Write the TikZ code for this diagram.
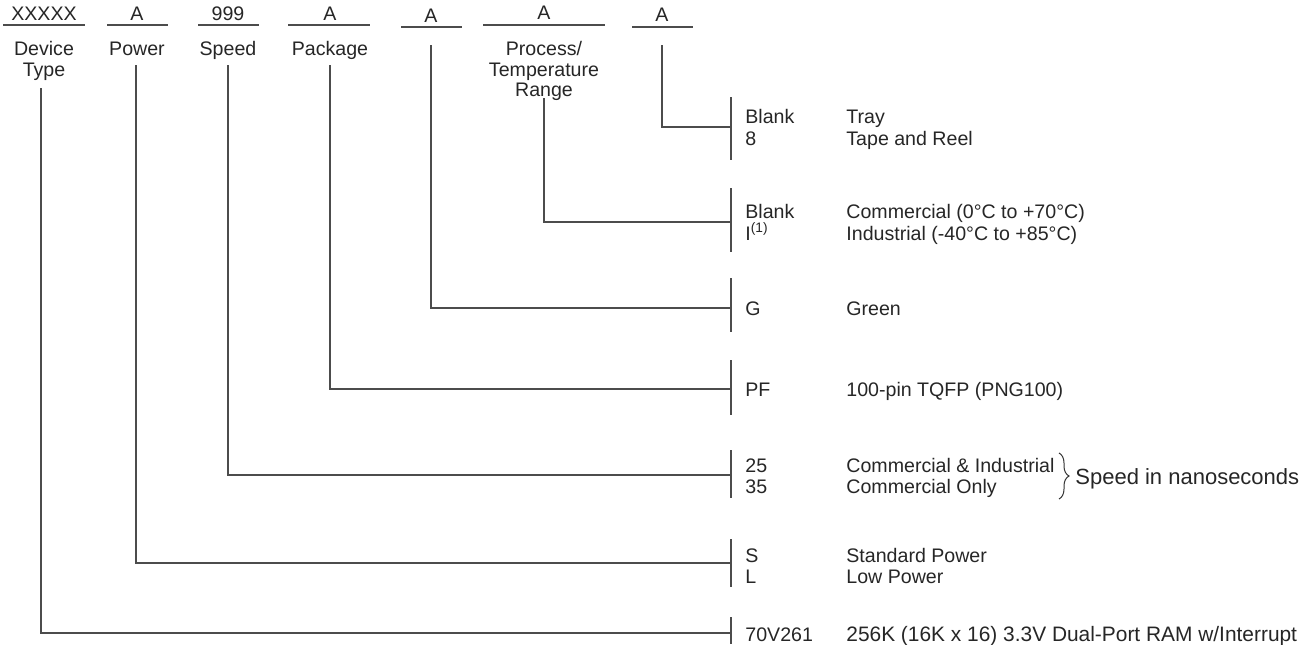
\documentclass[tikz,border=0pt]{standalone}
\usepackage{fontspec}
\setmainfont{Liberation Sans}
\usetikzlibrary{decorations.pathreplacing}
\begin{document}
\begin{tikzpicture}[x=0.5pt,y=-0.5pt,
  txt/.style={inner sep=0pt, anchor=base, text=black!85, font=\fontsize{9.8}{11.8}\selectfont},
  ltxt/.style={txt, anchor=base west},
  ln/.style={draw=black!70, line width=0.7pt},
  brk/.style={draw=black!70, line width=0.7pt},
]
\useasboundingbox (0,0) rectangle (1302,644);

% top code characters
\node[txt] (c1) at (44,20) {XXXXX};
\node[txt] (c2) at (137,20) {A};
\node[txt] (c3) at (228,20) {999};
\node[txt] (c4) at (330,20) {A};
\node[txt] (c5) at (431,22) {A};
\node[txt] (c6) at (544,19) {A};
\node[txt] (c7) at (662,21.5) {A};

% underlines
\draw[ln] (3,25) -- (85,25);
\draw[ln] (107,25) -- (168,25);
\draw[ln] (198,25) -- (259,25);
\draw[ln] (288,25) -- (370,25);
\draw[ln] (401,27) -- (462,27);
\draw[ln] (483,25) -- (605,25);
\draw[ln] (632,27) -- (693,27);

% field labels
\node[txt] (l1a) at (44,55) {Device};
\node[txt] (l1b) at (44,76) {Type};
\node[txt] (l2) at (137,55) {Power};
\node[txt] (l3) at (228,55) {Speed};
\node[txt] (l4) at (330,55) {Package};
\node[txt] (l6a) at (544,55) {Process/};
\node[txt] (l6b) at (544,76) {Temperature};
\node[txt] (l6c) at (544,96) {Range};

% line start coordinates
\coordinate (t1) at (41,88);
\coordinate (t2) at (136,65);
\coordinate (t3) at (228,65);
\coordinate (t4) at (330,65);
\coordinate (t5) at (431,45);
\coordinate (t6) at (544,98);
\coordinate (t7) at (662,45);

% bracket junctions
\coordinate (b7) at (731,127);
\coordinate (b6) at (731,222);
\coordinate (b5) at (731,308);
\coordinate (b4) at (731,389);
\coordinate (b3) at (731,475);
\coordinate (b2) at (731,563);
\coordinate (b1) at (731,633);

% connectors
\draw[ln] (t7) |- (b7);
\draw[ln] (t6) |- (b6);
\draw[ln] (t5) |- (b5);
\draw[ln] (t4) |- (b4);
\draw[ln] (t3) |- (b3);
\draw[ln] (t2) |- (b2);
\draw[ln] (t1) |- (b1);

% brackets
\draw[brk] (731,97) -- (731,160);
\draw[brk] (731,188) -- (731,252);
\draw[brk] (731,278) -- (731,332);
\draw[brk] (731,360) -- (731,415);
\draw[brk] (731,450) -- (731,498);
\draw[brk] (731,539) -- (731,587);
\draw[brk] (731,617) -- (731,644);

% option codes
\node[ltxt] (o7a) at (745,123) {Blank};
\node[ltxt] (o7b) at (745,145) {8};
\node[ltxt] (o6a) at (745,218) {Blank};
\node[ltxt] (o6b) at (745,240) {I\textsuperscript{(1)}};
\node[ltxt] (o5) at (745,315) {G};
\node[ltxt] (o4) at (745,396) {PF};
\node[ltxt] (o3a) at (745,472) {25};
\node[ltxt] (o3b) at (745,493) {35};
\node[ltxt] (o2a) at (745,562) {S};
\node[ltxt] (o2b) at (745,583) {L};
\node[ltxt] (o1) at (745,641) {70V261};

% descriptions
\node[ltxt] (d7a) at (846,123) {Tray};
\node[ltxt] (d7b) at (846,145) {Tape and Reel};
\node[ltxt] (d6a) at (846,218) {Commercial (0°C to +70°C)};
\node[ltxt] (d6b) at (846,240) {Industrial (-40°C to +85°C)};
\node[ltxt] (d5) at (846,315) {Green};
\node[ltxt] (d4) at (846,396) {100-pin TQFP (PNG100)};
\node[ltxt] (d3a) at (846,472) {Commercial \& Industrial};
\node[ltxt] (d3b) at (846,493) {Commercial Only};
\node[ltxt] (d2a) at (846,562) {Standard Power};
\node[ltxt] (d2b) at (846,583) {Low Power};
\node[ltxt, font=\fontsize{10.45}{12.5}\selectfont] (d1) at (846,641) {256K (16K x 16) 3.3V Dual-Port RAM w/Interrupt};

% brace
\draw[draw=black!80, line width=0.5pt, decorate, decoration={brace, amplitude=5}] (1059,453) -- (1059,499);
\node[ltxt, font=\fontsize{11}{13}\selectfont] (sp) at (1075,484) {Speed in nanoseconds};
\end{tikzpicture}
\end{document}
